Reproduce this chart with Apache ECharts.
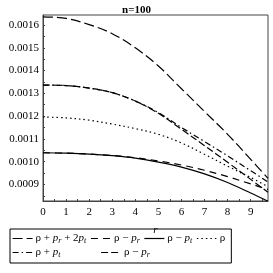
<!DOCTYPE html>
<html><head><meta charset="utf-8">
<script src="https://cdn.jsdelivr.net/npm/echarts@6/dist/echarts.min.js"></script>
<style>html,body{margin:0;padding:0;background:#fff}#c{width:273px;height:273px}</style>
</head><body><div id="c"></div>
<script>
// Data
var rValues = [0, 1, 2, 3, 4, 5, 6, 7, 8, 9, 9.75];
var sPlusPr2Pt = [0.001636, 0.001629, 0.001602, 0.001562, 0.001500, 0.001420, 0.001320, 0.001220, 0.001120, 0.001010, 0.000926];
var sMinusPr   = [0.001039, 0.001037, 0.001033, 0.001027, 0.001017, 0.001003, 0.000985, 0.000962, 0.000934, 0.000902, 0.000878];
var sMinusPt   = [0.001039, 0.001037, 0.001033, 0.001026, 0.001015, 0.000998, 0.000976, 0.000946, 0.000908, 0.000862, 0.000826];
var sRho       = [0.001196, 0.001192, 0.001182, 0.001165, 0.001145, 0.001120, 0.001082, 0.001032, 0.000980, 0.000930, 0.000890];
var sPlusPt    = [0.001336, 0.001334, 0.001323, 0.001303, 0.001266, 0.001215, 0.001150, 0.001088, 0.001025, 0.000960, 0.000910];
var sPlusPr    = [0.001336, 0.001334, 0.001323, 0.001303, 0.001266, 0.001212, 0.001142, 0.001070, 0.000997, 0.000922, 0.000865];
var xTickLabels = [0, 1, 2, 3, 4, 5, 6, 7, 8, 9];
var xTicks = [0, 0.5, 1, 1.5, 2, 2.5, 3, 3.5, 4, 4.5, 5, 5.5, 6, 6.5, 7, 7.5, 8, 8.5, 9, 9.5];
var yTickLabels = [0.0009, 0.0010, 0.0011, 0.0012, 0.0013, 0.0014, 0.0015, 0.0016];
var yTicks = [0.00085, 0.0009, 0.00095, 0.0010, 0.00105, 0.0011, 0.00115, 0.0012, 0.00125, 0.0013, 0.00135, 0.0014, 0.00145, 0.0015, 0.00155, 0.0016];
var legendText = {
  a: 'ρ + {i|p}{s|r} + 2{i|p}{s|t}',
  b: 'ρ − {i|p}{s|r}',
  c: 'ρ − {i|p}{s|t}',
  d: 'ρ',
  e: 'ρ + {i|p}{s|t}',
  f: 'ρ − {i|p}{s|r}'
};

var FONT = 'Liberation Serif';
function pair(arr) { return rValues.map(function (r, i) { return [r, arr[i]]; }); }
function mk(name, arr, type) {
  return {
    name: name, type: 'line', data: pair(arr), smooth: 0.35, showSymbol: false, symbol: 'none',
    lineStyle: { color: '#000', width: 1.2, type: type },
    itemStyle: { color: '#000' }, animation: false
  };
}
var rich = {
  i: { fontFamily: FONT, fontSize: 11, fontStyle: 'italic', color: '#000' },
  s: { fontFamily: FONT, fontSize: 8, fontStyle: 'italic', color: '#000', verticalAlign: 'bottom', padding: [5, 0, 0, 0] }
};
var legendCommon = {
  orient: 'horizontal', itemWidth: 20, itemHeight: 8,
  itemStyle: { opacity: 0 },
  lineStyle: { width: 1.2 },
  textStyle: { fontFamily: FONT, fontSize: 11, color: '#000', rich: rich, padding: [0, 0, 0, -2] },
  formatter: function (n) { return legendText[n]; },
  selectedMode: false
};

var chart = echarts.init(document.getElementById('c'), null, { renderer: 'canvas' });
chart.setOption({
  animation: false,
  title: { text: 'n=100', left: 'center', top: 0, textStyle: { fontFamily: FONT, fontSize: 11, fontWeight: 'bold', color: '#000' } },
  grid: { left: 43, right: 5, top: 15, bottom: 72, show: true, borderColor: '#444', borderWidth: 1 },
  xAxis: {
    type: 'value', min: 0, max: 9.75,
    name: 'r', nameLocation: 'middle', nameGap: 24,
    nameTextStyle: { fontFamily: FONT, fontSize: 11, fontStyle: 'italic', color: '#000' },
    axisLine: { show: true, lineStyle: { color: '#444' } },
    axisTick: { show: true, inside: true, length: 2, customValues: xTicks, lineStyle: { color: '#444' } },
    axisLabel: { customValues: xTickLabels, fontFamily: FONT, fontSize: 11, color: '#000', margin: 6 },
    splitLine: { show: false }
  },
  yAxis: {
    type: 'value', min: 0.000827, max: 0.001644,
    axisLine: { show: true, lineStyle: { color: '#444' } },
    axisTick: { show: true, inside: true, length: 2, customValues: yTicks, lineStyle: { color: '#444' } },
    axisLabel: { customValues: yTickLabels, fontFamily: FONT, fontSize: 11, color: '#000', margin: 4,
      formatter: function (v) { return v.toFixed(4); } },
    splitLine: { show: false }
  },
  legend: [
    Object.assign({}, legendCommon, {
      data: ['a', 'b', 'c', 'd'], left: 10, top: 229, itemGap: 4,
      borderColor: '#000', borderWidth: 1, padding: [4, 6, 18, 2]
    }),
    Object.assign({}, legendCommon, {
      data: ['e', 'f'], left: 10, top: 244, itemGap: 40, padding: [3, 4, 3, 2]
    })
  ],
  series: [
    mk('a', sPlusPr2Pt, [10, 4]),
    mk('b', sMinusPr, [7, 5]),
    mk('c', sMinusPt, 'solid'),
    mk('d', sRho, [1.5, 3]),
    mk('e', sPlusPt, [6, 3, 1.5, 3]),
    mk('f', sPlusPr, [7, 3])
  ]
});
</script>
</body></html>
